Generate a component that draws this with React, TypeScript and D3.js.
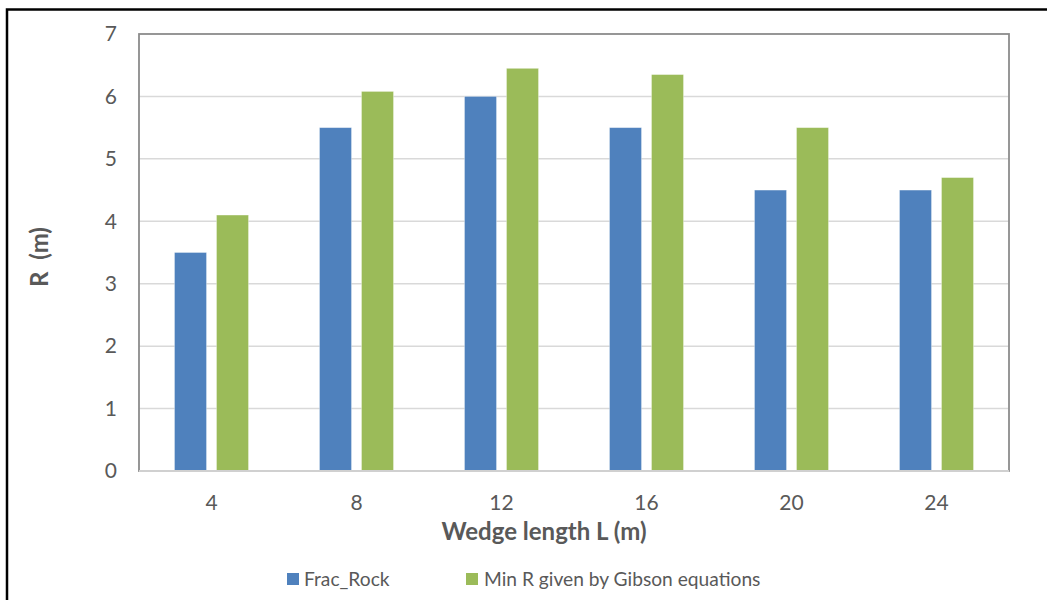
import React from 'react';
import * as d3 from 'd3';

const categories = ['4', '8', '12', '16', '20', '24'];
const seriesNames = ['Frac_Rock', 'Min R given by Gibson equations'];
const fracRock = [3.5, 5.5, 6.0, 5.5, 4.5, 4.5];
const gibson = [4.1, 6.08, 6.45, 6.35, 5.5, 4.7];
const yTicks = [0, 1, 2, 3, 4, 5, 6, 7];
const colors = ['#4F81BD', '#9BBB59'];

const FONT = "Lato, 'Open Sans', sans-serif";

const App = () => {
  const width = 1047;
  const height = 600;
  const left = 139, right = 1009, top = 34, bottom = 471;

  const x0 = d3.scaleBand().domain(categories).range([left, right]);
  const step = x0.bandwidth();
  const x1 = d3.scaleBand()
    .domain(seriesNames)
    .range([35.5, step - 35.5])
    .paddingInner(10 / 42);
  const y = d3.scaleLinear().domain([0, 7]).range([bottom, top]);

  const series = [fracRock, gibson];

  return (
    <svg width={width} height={height} style={{ position: 'absolute', left: 0, top: 0 }}>
      <rect x={0} y={0} width={width} height={height} fill="#fff" />
      <rect x={7} y={9.5} width={width + 10} height={height + 10} fill="none" stroke="#000" strokeWidth={2.5} />

      {yTicks.map(t => (
        <g key={t}>
          {t > 0 && t < 7 && (
            <line x1={left} x2={right} y1={y(t)} y2={y(t)} stroke="#d9d9d9" strokeWidth={1.5} />
          )}
          <text x={117} y={y(t)} dy="0.35em" textAnchor="end" fontFamily={FONT} fontSize={21} fill="#595959">{t}</text>
        </g>
      ))}

      {categories.map((c, i) => (
        <g key={c} transform={`translate(${x0(c)},0)`}>
          {series.map((s, j) => (
            <rect key={j}
              x={x1(seriesNames[j])}
              y={y(s[i])}
              width={x1.bandwidth()}
              height={bottom - y(s[i])}
              fill={colors[j]}
              stroke="#fff"
              strokeOpacity={0.4}
              strokeWidth={0.8} />
          ))}
          <text x={step / 2} y={503} dy="0.35em" textAnchor="middle" fontFamily={FONT} fontSize={21} fill="#595959">{c}</text>
        </g>
      ))}

      <rect x={left} y={top} width={right - left} height={bottom - top} fill="none" stroke="#8c8c8c" strokeWidth={1.8} />
      <line x1={left} x2={right} y1={bottom} y2={bottom} stroke="#d0d0d0" strokeWidth={2} />

      <text x={544} y={532} dy="0.35em" textAnchor="middle" fontFamily={FONT} fontSize={24} fontWeight="bold" fill="#595959">Wedge length L (m)</text>
      <text transform="translate(40,257) rotate(-90)" dy="0.35em" textAnchor="middle" fontFamily={FONT} fontSize={24} fontWeight="bold" fill="#595959" style={{ whiteSpace: 'pre' }}>R  (m)</text>

      <rect x={287} y={573} width={12} height={12} fill={colors[0]} />
      <text x={304} y={579} dy="0.35em" fontFamily={FONT} fontSize={19.2} fill="#595959">{seriesNames[0]}</text>
      <rect x={466} y={573} width={12} height={12} fill={colors[1]} />
      <text x={484} y={579} dy="0.35em" fontFamily={FONT} fontSize={19.2} fill="#595959">{seriesNames[1]}</text>
    </svg>
  );
};

export default App;
